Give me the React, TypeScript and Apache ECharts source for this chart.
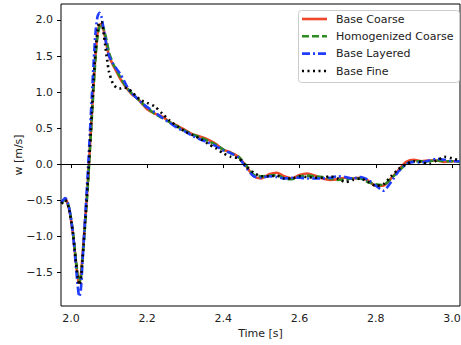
import React, { useEffect, useRef } from "react";
import * as echarts from "echarts";

const time = [
  1.975, 1.985, 1.995, 2.005, 2.012, 2.018, 2.022, 2.026, 2.03, 2.035, 2.04, 2.045, 2.05, 2.055,
  2.06, 2.065, 2.07, 2.075, 2.08, 2.085, 2.09, 2.095, 2.1, 2.11, 2.12, 2.13, 2.14, 2.15, 2.16,
  2.17, 2.18, 2.19, 2.2, 2.22, 2.24, 2.26, 2.28, 2.3, 2.32, 2.34, 2.36, 2.38, 2.4, 2.42, 2.44,
  2.46, 2.48, 2.5, 2.52, 2.54, 2.56, 2.58, 2.6, 2.62, 2.64, 2.66, 2.68, 2.7, 2.72, 2.74, 2.76,
  2.78, 2.8, 2.82, 2.84, 2.86, 2.88, 2.9, 2.92, 2.94, 2.96, 2.98, 3.0, 3.02,
];

const baseCoarse = [
  -0.55, -0.48, -0.62, -0.95, -1.3, -1.58, -1.65, -1.55, -1.3, -0.95, -0.6, -0.2, 0.25, 0.7,
  1.15, 1.55, 1.82, 1.93, 1.94, 1.88, 1.75, 1.62, 1.5, 1.38, 1.28, 1.18, 1.1, 1.03, 0.97,
  0.93, 0.88, 0.82, 0.76, 0.7, 0.66, 0.58, 0.53, 0.47, 0.41, 0.38, 0.34, 0.28, 0.2, 0.16, 0.1,
  -0.03, -0.17, -0.2, -0.14, -0.12, -0.17, -0.2, -0.15, -0.13, -0.16, -0.2, -0.22, -0.21, -0.19, -0.2, -0.19,
  -0.23, -0.3, -0.3, -0.2, -0.08, 0.03, 0.06, 0.04, 0.05, 0.05, 0.03, 0.04, 0.04,
];

const homogenizedCoarse = [
  -0.55, -0.49, -0.6, -0.93, -1.27, -1.55, -1.63, -1.57, -1.35, -1.0, -0.65, -0.25, 0.2, 0.65,
  1.1, 1.5, 1.78, 1.9, 1.95, 1.9, 1.8, 1.68, 1.55, 1.4, 1.3, 1.2, 1.11, 1.04, 0.98,
  0.93, 0.88, 0.83, 0.78, 0.7, 0.64, 0.58, 0.52, 0.46, 0.41, 0.37, 0.32, 0.27, 0.2, 0.15, 0.1,
  -0.02, -0.15, -0.17, -0.16, -0.15, -0.2, -0.21, -0.17, -0.16, -0.17, -0.18, -0.2, -0.22, -0.21, -0.2, -0.2,
  -0.25, -0.28, -0.29, -0.2, -0.1, 0.0, 0.04, 0.04, 0.04, 0.05, 0.04, 0.04, 0.03,
];

const baseLayered = [
  -0.53, -0.47, -0.6, -0.95, -1.35, -1.7, -1.84, -1.75, -1.4, -0.95, -0.5, -0.05, 0.45, 0.95,
  1.45, 1.85, 2.05, 2.1, 2.05, 1.9, 1.75, 1.6, 1.5, 1.4, 1.32, 1.25, 1.15, 1.05, 0.98,
  0.93, 0.88, 0.83, 0.79, 0.72, 0.64, 0.57, 0.5, 0.45, 0.39, 0.34, 0.3, 0.25, 0.19, 0.15, 0.09,
  -0.05, -0.17, -0.19, -0.17, -0.18, -0.2, -0.19, -0.19, -0.2, -0.2, -0.2, -0.19, -0.17, -0.18, -0.2, -0.18,
  -0.22, -0.3, -0.37, -0.25, -0.1, 0.0, 0.03, 0.02, 0.05, 0.07, 0.06, 0.04, 0.04,
];

const baseFine = [
  -0.55, -0.5, -0.62, -0.95, -1.3, -1.57, -1.68, -1.6, -1.35, -1.0, -0.6, -0.2, 0.25, 0.72,
  1.2, 1.6, 1.85, 1.97, 1.97, 1.85, 1.65, 1.45, 1.28, 1.12, 1.06, 1.05, 1.06, 1.05, 1.0,
  0.95, 0.9, 0.87, 0.85, 0.8, 0.7, 0.6, 0.52, 0.45, 0.4, 0.35, 0.28, 0.22, 0.15, 0.1, 0.08,
  -0.03, -0.12, -0.17, -0.17, -0.16, -0.2, -0.2, -0.17, -0.18, -0.19, -0.19, -0.17, -0.2, -0.25, -0.22, -0.2,
  -0.25, -0.3, -0.28, -0.17, -0.07, 0.0, 0.04, 0.03, 0.0, 0.05, 0.1, 0.08, 0.05,
];

const seriesNames = ["Base Coarse", "Homogenized Coarse", "Base Layered", "Base Fine"];
const xTicks = [2.0, 2.2, 2.4, 2.6, 2.8, 3.0];
const yTicks = [-1.5, -1.0, -0.5, 0.0, 0.5, 1.0, 1.5, 2.0];

const FONT = "DejaVu Sans";
const FS = 11;
const COLORS = ["#f0462a", "#2e8b22", "#1f3cff", "#000000"];
const DASHES: (number[] | "solid")[] = ["solid", [7, 3], [8, 3, 2, 3], [2, 3.5]];
const LW = 2.6;

export default function App() {
  const ref = useRef<HTMLDivElement>(null);
  useEffect(() => {
    document.body.style.margin = "0";
    if (!ref.current) return;
    const chart = echarts.init(ref.current, undefined, { renderer: "svg" });
    const pair = (arr: number[]) => time.map((t, i) => [t, arr[i]]);
    const fmt = (v: number) => v.toFixed(1).replace("-", "\u2212");
    const axisText = { color: "#222", fontFamily: FONT, fontSize: FS };
    const values = [baseCoarse, homogenizedCoarse, baseLayered, baseFine];

    const legendRows = [19, 36.3, 53.6, 71];
    const legendChildren: any[] = [
      {
        type: "rect",
        shape: { x: 298.5, y: 10.5, width: 161, height: 72, r: 3 },
        style: { fill: "rgba(255,255,255,0.8)", stroke: "#cccccc", lineWidth: 1 },
      },
    ];
    seriesNames.forEach((name, i) => {
      const y = legendRows[i];
      legendChildren.push({
        type: "line",
        shape: { x1: 302, y1: y, x2: 327, y2: y },
        style: {
          stroke: COLORS[i],
          lineWidth: LW,
          lineDash: DASHES[i] === "solid" ? null : (DASHES[i] as number[]),
        },
      });
      legendChildren.push({
        type: "text",
        x: 336,
        y: y,
        style: {
          text: name,
          fill: "#222",
          fontFamily: FONT,
          fontSize: FS,
          verticalAlign: "middle",
          align: "left",
        },
      });
    });

    chart.setOption({
      animation: false,
      backgroundColor: "#fff",
      grid: {
        left: 61,
        top: 4,
        width: 399,
        height: 302,
        show: true,
        borderColor: "#000",
        borderWidth: 1,
        backgroundColor: "transparent",
        containLabel: false,
        outerBoundsMode: "none",
      },
      graphic: [{ type: "group", z: 100, children: legendChildren }],
      xAxis: {
        type: "value",
        min: 1.974,
        max: 3.021,
        name: "Time [s]",
        nameLocation: "middle",
        nameGap: 22,
        nameMoveOverlap: false,
        nameTextStyle: axisText,
        axisLine: { show: false },
        splitLine: { show: false },
        axisTick: { show: true, length: 4, lineStyle: { color: "#000" }, customValues: xTicks },
        axisLabel: { ...axisText, margin: 7, customValues: xTicks, formatter: fmt },
      },
      yAxis: {
        type: "value",
        min: -1.97,
        max: 2.222,
        name: "w [m/s]",
        nameLocation: "middle",
        nameGap: 37,
        nameMoveOverlap: false,
        nameRotate: 90,
        nameTextStyle: axisText,
        axisLine: { show: false },
        splitLine: { show: false },
        axisTick: { show: true, length: 4, lineStyle: { color: "#000" }, customValues: yTicks },
        axisLabel: { ...axisText, margin: 8, customValues: yTicks, formatter: fmt },
      },
      series: seriesNames.map((name, i) => ({
        name,
        type: "line",
        data: pair(values[i]),
        showSymbol: false,
        symbol: "none",
        smooth: 0.25,
        color: COLORS[i],
        lineStyle: { width: LW, color: COLORS[i], type: DASHES[i] },
        ...(i === 0
          ? {
              markLine: {
                silent: true,
                symbol: "none",
                label: { show: false },
                lineStyle: { color: "#000", width: 1, type: "solid" },
                data: [{ yAxis: 0 }],
              },
            }
          : {}),
      })),
    });
    return () => chart.dispose();
  }, []);
  return <div ref={ref} style={{ width: 461, height: 345 }} />;
}
